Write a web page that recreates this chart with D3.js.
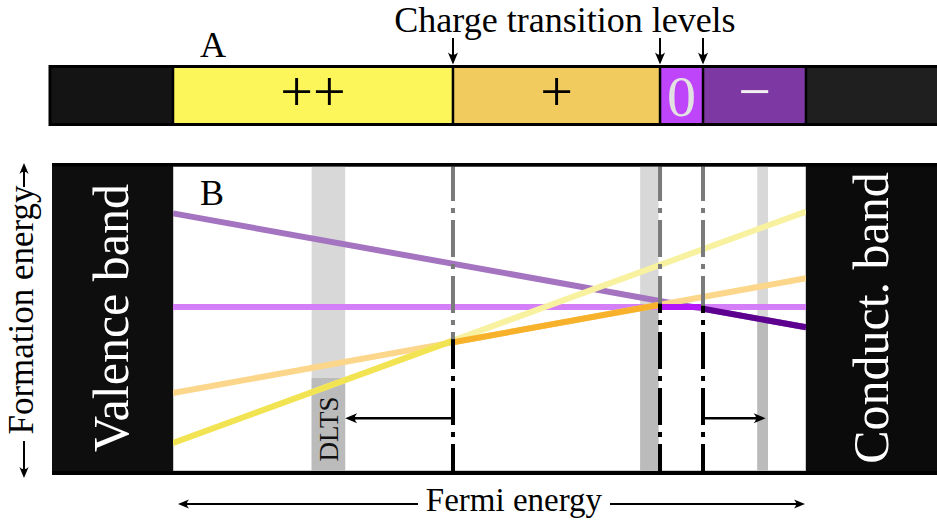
<!DOCTYPE html>
<html>
<head>
<meta charset="utf-8">
<script src="https://cdn.jsdelivr.net/npm/d3@7/dist/d3.min.js"></script>
<style>
  html, body { margin: 0; padding: 0; background: #fff; }
  svg { display: block; }
</style>
</head>
<body>
<div id="chart"></div>
<script>
// ---------------- data ----------------
const chargeLabels   = ["++", "+", "0", "\u2212"];
const chargeStates   = [2, 1, 0, -1];
// formation energy (arbitrary units) read at the valence band edge (EF=0) and conduction band edge (EF=1)
const formationAtVBM = [0.92, 2.56, 5.39, 8.46];
const formationAtCBM = [8.52, 6.33, 5.39, 4.72];
// charge transition levels (fraction of the gap): ++/+, +/0, 0/-
const transitionLevels = [0.4423, 0.7694, 0.8373];
// DLTS measured ranges (fraction of the gap)
const dltsRanges = [[0.219, 0.272], [0.738, 0.767], [0.923, 0.940]];
const bandLabels = ["Valence band", "Conduct. band"];
const titleText = "Charge transition levels";
const xAxisLabel = "Fermi energy";
const yAxisLabel = "Formation energy";
const panelLabels = ["A", "B"];
const dltsLabel = "DLTS";

// ---------------- styles ----------------
const FONT = "'Liberation Serif', 'Times New Roman', Times, 'DejaVu Serif', serif";
const barFill    = ["#fcf65a", "#f2cb5f", "#bf45fa", "#7d38a3"];
const barText    = ["#000", "#000", "#e2e2e2", "#f2f2f2"];
const paleLine   = ["#f7f1a0", "#fcd68a", "#d47ff7", "#a474c0"];
const stableLine = ["#f2e352", "#f7b12a", "#b416f9", "#5d0090"];

const W = 937, H = 525;
const svg = d3.select("#chart").append("svg").attr("width", W).attr("height", H)
  .attr("font-family", FONT);

const x = d3.scaleLinear().domain([0, 1]).range([173, 806]);
const y = d3.scaleLinear().domain([0, 10]).range([471, 166.5]);

const E = (i, ef) => formationAtVBM[i] + (formationAtCBM[i] - formationAtVBM[i]) * ef;
const envelope = ef => d3.min(chargeStates.map((q, i) => E(i, ef)));

function txt(g) { return g.append("text").attr("font-family", FONT); }

function arrow(g, x1, y1, x2, y2, sw, head) {
  const dx = x2 - x1, dy = y2 - y1, L = Math.hypot(dx, dy);
  const ux = dx / L, uy = dy / L;
  const hl = head || 12;
  g.append("line")
    .attr("x1", x1).attr("y1", y1)
    .attr("x2", x2 - ux * hl * 0.6).attr("y2", y2 - uy * hl * 0.6)
    .attr("stroke", "#000").attr("stroke-width", sw);
  const ang = Math.atan2(dy, dx) * 180 / Math.PI;
  g.append("path")
    .attr("d", `M0,0 L${-hl},${-hl*0.42} Q${-hl*0.6},0 ${-hl},${hl*0.42} Z`)
    .attr("fill", "#000")
    .attr("transform", `translate(${x2},${y2}) rotate(${ang})`);
}

// ---------------- Panel A: bar ----------------
const barTop = 66.5, barBot = 124.5, barLeft = 50;
const gA = svg.append("g");
gA.append("rect").attr("x", barLeft).attr("y", barTop).attr("width", x(0) - barLeft).attr("height", barBot - barTop).attr("fill", "#141414");
gA.append("rect").attr("x", x(1)).attr("y", barTop).attr("width", W - x(1) + 5).attr("height", barBot - barTop).attr("fill", "#1f1f1f");
const bounds = [0, ...transitionLevels, 1];
chargeLabels.forEach((lab, i) => {
  gA.append("rect")
    .attr("x", x(bounds[i])).attr("y", barTop)
    .attr("width", x(bounds[i + 1]) - x(bounds[i])).attr("height", barBot - barTop)
    .attr("fill", barFill[i]);
  txt(gA)
    .attr("x", (x(bounds[i]) + x(bounds[i + 1])) / 2)
    .attr("y", 96)
    .attr("dy", lab === "0" ? "0.34em" : "0.25em")
    .attr("text-anchor", "middle")
    .attr("font-size", 58)
    .attr("fill", barText[i])
    .text(lab);
});
gA.append("rect").attr("x", barLeft).attr("y", barTop).attr("width", W - barLeft + 10).attr("height", barBot - barTop)
  .attr("fill", "none").attr("stroke", "#000").attr("stroke-width", 3);
bounds.forEach(b => {
  gA.append("line").attr("x1", x(b)).attr("x2", x(b)).attr("y1", barTop).attr("y2", barBot)
    .attr("stroke", "#000").attr("stroke-width", 2.5);
});
txt(gA).attr("x", 213).attr("y", 57).attr("text-anchor", "middle").attr("font-size", 36).text(panelLabels[0]);
txt(gA).attr("x", 565).attr("y", 31.5).attr("text-anchor", "middle").attr("font-size", 36).text(titleText);
transitionLevels.forEach(t => arrow(gA, x(t), 38, x(t), 64.5, 2, 12));

// ---------------- Panel B ----------------
const pTop = 166.5, pBot = 471;
const gB = svg.append("g");
gB.append("rect").attr("x", x(0)).attr("y", pTop).attr("width", x(1) - x(0)).attr("height", pBot - pTop)
  .attr("fill", "#fff").attr("stroke", "#999").attr("stroke-width", 1);

// DLTS bands
dltsRanges.forEach(r => {
  const split = y(envelope(r[1])) - 2;
  gB.append("rect").attr("x", x(r[0])).attr("y", pTop).attr("width", x(r[1]) - x(r[0])).attr("height", pBot - pTop).attr("fill", "#d8d8d8");
  gB.append("rect").attr("x", x(r[0])).attr("y", split).attr("width", x(r[1]) - x(r[0])).attr("height", pBot - split).attr("fill", "#bbbbbb");
});

const line = d3.line().x(d => x(d[0])).y(d => y(d[1]));
// pale full lines
[3, 2, 1, 0].forEach(i => {
  gB.append("path").attr("d", line([[0, E(i, 0)], [1, E(i, 1)]]))
    .attr("stroke", paleLine[i]).attr("stroke-width", 6).attr("fill", "none");
});
// stable segments
chargeStates.forEach((q, i) => {
  const a = bounds[i], b = bounds[i + 1];
  gB.append("path").attr("d", line([[a, E(i, a)], [b, E(i, b)]]))
    .attr("stroke", stableLine[i]).attr("stroke-width", 6).attr("fill", "none");
});

// dash-dot transition lines
const defs = svg.append("defs");
transitionLevels.forEach((t, k) => {
  const split = y(envelope(t)) - 3;
  const cid = "clipLow" + k;
  defs.append("clipPath").attr("id", cid).append("rect").attr("x", 0).attr("y", split).attr("width", W).attr("height", H);
  gB.append("line").attr("x1", x(t)).attr("x2", x(t)).attr("y1", 164).attr("y2", pBot)
    .attr("stroke", "#7a7a7a").attr("stroke-width", 4).attr("stroke-dasharray", "37 7 5 7");
  gB.append("line").attr("x1", x(t)).attr("x2", x(t)).attr("y1", 164).attr("y2", pBot)
    .attr("stroke", "#000").attr("stroke-width", 4).attr("stroke-dasharray", "37 7 5 7")
    .attr("clip-path", `url(#${cid})`);
});

// DLTS arrows
const arrowY = 418.3;
arrow(gB, x(transitionLevels[0]), arrowY, x(dltsRanges[0][1]), arrowY, 2.5, 12);
arrow(gB, x(transitionLevels[2]), arrowY, x(d3.mean(dltsRanges[2])) + 3, arrowY, 2.5, 12);
txt(gB).attr("transform", `translate(338,${429}) rotate(-90)`)
  .attr("text-anchor", "middle").attr("font-size", 27).attr("fill", "#111").text(dltsLabel);

// band blocks
gB.append("rect").attr("x", 52).attr("y", 163).attr("width", x(0) - 52).attr("height", 312).attr("fill", "#0e0e0e");
gB.append("rect").attr("x", x(1)).attr("y", 163).attr("width", W - x(1) + 5).attr("height", 312).attr("fill", "#0b0b0b");
gB.append("line").attr("x1", 52).attr("x2", W).attr("y1", 164.7).attr("y2", 164.7).attr("stroke", "#000").attr("stroke-width", 3.5);
gB.append("line").attr("x1", 52).attr("x2", W).attr("y1", 473).attr("y2", 473).attr("stroke", "#000").attr("stroke-width", 4);

txt(gB).attr("transform", "translate(128,318) rotate(-90)").attr("text-anchor", "middle")
  .attr("font-size", 50).attr("fill", "#fff").text(bandLabels[0]);
txt(gB).attr("transform", "translate(888,318) rotate(-90)").attr("text-anchor", "middle")
  .attr("font-size", 50).attr("fill", "#fff").text(bandLabels[1]);
txt(gB).attr("x", 212).attr("y", 205).attr("text-anchor", "middle").attr("font-size", 36).text(panelLabels[1]);

// axis labels
txt(svg).attr("x", 514).attr("y", 511).attr("text-anchor", "middle").attr("font-size", 33).text(xAxisLabel);
arrow(svg, 418, 504, 178, 504, 2, 11);
arrow(svg, 610, 504, 805, 504, 2, 11);
txt(svg).attr("transform", "translate(33,310) rotate(-90)").attr("text-anchor", "middle")
  .attr("font-size", 35).text(yAxisLabel);
arrow(svg, 24, 187, 24, 163, 2, 11);
arrow(svg, 24, 441, 24, 478, 2, 11);
</script>
</body>
</html>
